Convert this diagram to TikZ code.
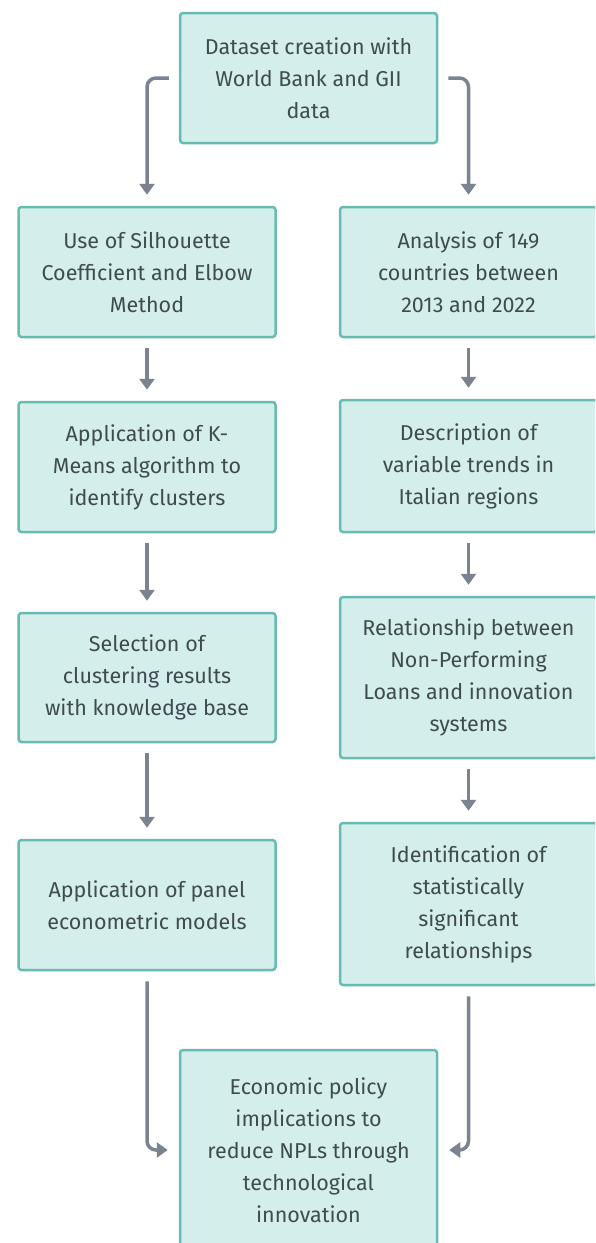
\documentclass[tikz,border=0pt]{standalone}
\usepackage{fontspec}
\setmainfont{Fira Sans}
\usepackage{xcolor}
\usetikzlibrary{arrows.meta}
\definecolor{boxfill}{HTML}{D4EEEC}
\definecolor{boxline}{HTML}{66BCB2}
\definecolor{boxtext}{HTML}{3E4C52}
\definecolor{flowgray}{HTML}{7B8391}

\begin{document}
\begin{tikzpicture}[x=1pt,y=-1pt,
    stage/.style={rectangle, draw=boxline, fill=boxfill, line width=2.5pt,
      rounded corners=3pt, text=boxtext, align=center, inner sep=0pt,
      minimum width=257pt, font=\fontsize{21.5}{32}\selectfont},
    flow/.style={draw=flowgray, line width=3.5pt, rounded corners=9pt,
      -{Triangle[width=15pt,length=11pt]},
      shorten <=10pt, shorten >=11pt}]
    \useasboundingbox (0,0) rectangle (595,1243);
    \clip (0,0) rectangle (595,1243);
    \fill[white] (0,0) rectangle (595,1243);
    \node [stage, minimum height=130pt] (data) at (308.5,78)
      {Dataset creation with\\World Bank and GII\\data};
    % left column
    \node [stage, minimum height=130pt] (silh) at (147,272)
      {Use of Silhouette\\Coefficient and Elbow\\Method};
    \node [stage, minimum height=130pt] (kmeans) at (147,467)
      {Application of K-\\Means algorithm to\\identify clusters};
    \node [stage, minimum height=129pt] (select) at (147,677.5)
      {Selection of\\clustering results\\with knowledge base};
    \node [stage, minimum height=130pt] (panel) at (147,905)
      {Application of panel\\econometric models};
    % right column
    \node [stage, minimum height=130pt] (anal) at (468.5,272)
      {Analysis of 149\\countries between\\2013 and 2022};
    \node [stage, minimum height=132pt] (trend) at (468.5,466)
      {Description of\\variable trends in\\Italian regions};
    \node [stage, minimum height=161pt] (npl) at (468.5,677.5)
      {Relationship between\\Non-Performing\\Loans and innovation\\systems};
    \node [stage, minimum height=162pt] (ident) at (468.5,904)
      {Identification of\\statistically\\significant\\relationships};
    \node [stage, minimum height=200pt] (policy) at (308.5,1150)
      {Economic policy\\implications to\\reduce NPLs through\\technological\\innovation};

    \draw [flow] (data.west) -| (silh.north);
    \draw [flow] (data.east) -| (anal.north);
    \draw [flow] (silh) -- (kmeans);
    \draw [flow] (kmeans) -- (select);
    \draw [flow] (select) -- (panel);
    \draw [flow] (anal) -- (trend);
    \draw [flow] (trend) -- (npl);
    \draw [flow] (npl) -- (ident);
    \draw [flow] (panel.south) |- (policy.west);
    \draw [flow] (ident.south) |- (policy.east);
\end{tikzpicture}
\end{document}
